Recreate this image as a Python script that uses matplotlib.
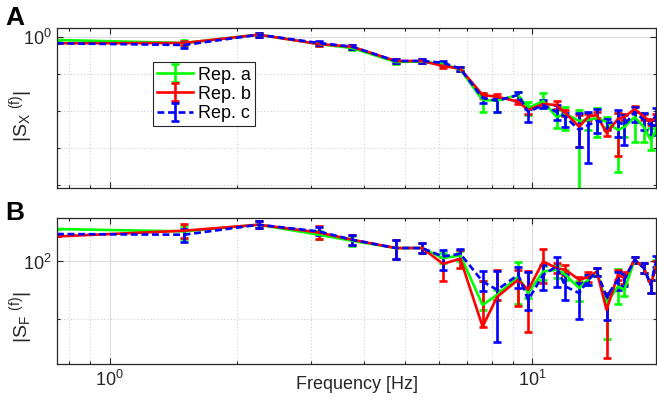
import numpy as np
import matplotlib
matplotlib.use('Agg')
import matplotlib.pyplot as plt
from matplotlib.ticker import FixedLocator, NullFormatter, FixedFormatter

plt.rcParams['font.family'] = ['Liberation Sans', 'DejaVu Sans']
plt.rcParams['mathtext.fontset'] = 'custom'
plt.rcParams['mathtext.rm'] = 'Liberation Sans'
plt.rcParams['mathtext.it'] = 'Liberation Sans:italic'
plt.rcParams['mathtext.bf'] = 'Liberation Sans:bold'
plt.rcParams['mathtext.default'] = 'regular'

# ---------------- data ----------------
freq = [0.75, 1.5, 2.25, 3.12, 3.74, 4.75, 5.48, 6.14, 6.75, 7.62, 8.25, 9.25, 9.77,
        10.6, 11.4, 11.97, 12.9, 13.55, 14.2, 14.97, 15.93, 16.5, 17.45, 18.35, 19.05, 19.6]

reps = ['Rep. a', 'Rep. b', 'Rep. c']

# Panel A: |S_X(f)| as log10 values
SX_a_log = [-0.089, -0.170, 0.054, -0.197, -0.305, -0.684, -0.670, -0.738, -0.886, -1.711, -1.730,
            -1.576, -1.927, -1.738, -2.170, -2.089, -2.278, -2.251, -2.197, -2.305, -2.522,
            -2.441, -2.170, -2.441, -2.795, -2.522]
SX_b_log = [-0.178, -0.170, 0.054, -0.197, -0.270, -0.657, -0.657, -0.792, -0.865, -1.576, -1.622,
            -1.757, -1.981, -1.819, -1.846, -2.062, -2.432, -2.162, -2.116, -2.603, -2.224,
            -2.170, -1.954, -2.162, -2.297, -2.170]
SX_c_log = [-0.178, -0.224, 0.054, -0.170, -0.270, -0.657, -0.657, -0.703, -0.865, -1.657, -1.730,
            -1.576, -2.035, -1.846, -2.035, -2.170, -2.522, -2.386, -2.278, -2.332, -2.305,
            -2.386, -2.035, -2.251, -2.386, -2.116]
# error bar extents (decades above / below)
SX_a_up = [0, 0.07, 0.05, 0.05, 0.05, 0.05, 0.05, 0.05, 0.05, 0.19, 0.08, 0.08, 0.16, 0.22, 0.19,
           0.19, 0.30, 0.19, 0.27, 0.14, 0.46, 0.14, 0.14, 0.38, 0.32, 0.14]
SX_a_dn = [0, 0.07, 0.05, 0.05, 0.05, 0.05, 0.05, 0.05, 0.05, 0.32, 0.30, 0.14, 0.19, 0.19, 0.30,
           0.43, 1.90, 0.27, 0.51, 0.14, 1.14, 0.27, 0.68, 0.41, 0.27, 0.14]
SX_b_up = [0, 0.05, 0.05, 0.05, 0.05, 0.05, 0.05, 0.05, 0.05, 0.05, 0.08, 0.05, 0.05, 0.05, 0.11,
           0.08, 0.32, 0.08, 0.08, 0.08, 0.16, 0.08, 0.08, 0.08, 0.08, 0.08]
SX_b_dn = [0, 0.05, 0.05, 0.05, 0.05, 0.05, 0.05, 0.05, 0.05, 0.08, 0.05, 0.05, 0.11, 0.08, 0.11,
           0.08, 0.54, 0.08, 0.08, 0.08, 1.00, 0.08, 0.08, 0.08, 0.08, 0.08]
SX_c_up = [0, 0.07, 0.05, 0.05, 0.05, 0.05, 0.05, 0.05, 0.05, 0.08, 0.08, 0.08, 0.08, 0.14, 0.19,
           0.11, 0.46, 0.35, 0.32, 0.11, 0.32, 0.27, 0.14, 0.19, 0.14, 0.19]
SX_c_dn = [0, 0.07, 0.05, 0.05, 0.05, 0.05, 0.05, 0.05, 0.05, 0.14, 0.30, 0.16, 0.27, 0.08, 0.22,
           0.27, 0.46, 1.03, 0.32, 0.16, 0.41, 0.54, 0.27, 0.27, 0.27, 0.27]

# Panel B: |S_F(f)| as log10 values
SF_a_log = [2.565, 2.524, 2.640, 2.466, 2.361, 2.234, 2.234, 2.059, 2.105, 1.244, 1.419, 1.738,
            1.449, 1.825, 1.855, 1.768, 1.536, 1.681, 1.825, 1.274, 1.564, 1.506, 2.030, 1.885,
            1.593, 1.942]
SF_b_log = [2.436, 2.536, 2.640, 2.506, 2.379, 2.234, 2.234, 1.960, 2.047, 0.866, 1.384, 1.681,
            1.506, 2.000, 1.885, 1.855, 1.681, 1.728, 1.825, 1.157, 1.768, 1.710, 2.030, 1.885,
            1.593, 1.913]
SF_c_log = [2.478, 2.466, 2.640, 2.524, 2.379, 2.234, 2.234, 2.087, 2.134, 1.651, 1.506, 1.768,
            1.332, 1.768, 1.913, 1.564, 1.449, 1.681, 1.825, 1.389, 1.681, 1.681, 2.030, 1.885,
            1.593, 2.000]
SF_a_up = [0, 0.10, 0.06, 0.07, 0.09, 0.14, 0.09, 0.09, 0.07, 0.42, 0.09, 0.26, 0.09, 0.09, 0.09,
           0.09, 0.12, 0.09, 0.07, 0.17, 0.30, 0.10, 0.05, 0.09, 0.09, 0.09]
SF_a_dn = [0, 0.14, 0.06, 0.07, 0.09, 0.19, 0.09, 0.09, 0.10, 0.09, 0.09, 0.47, 0.09, 0.14, 0.14,
           0.09, 0.23, 0.09, 0.07, 0.63, 0.31, 0.10, 0.05, 0.09, 0.14, 0.09]
SF_b_up = [0, 0.12, 0.06, 0.12, 0.09, 0.14, 0.09, 0.12, 0.16, 0.79, 0.47, 0.17, 0.33, 0.21, 0.09,
           0.09, 0.05, 0.09, 0.07, 0.30, 0.09, 0.10, 0.05, 0.09, 0.09, 0.09]
SF_b_dn = [0, 0.12, 0.06, 0.12, 0.09, 0.19, 0.09, 0.30, 0.16, 0.0, 0.05, 0.45, 0.73, 0.37, 0.09,
           0.09, 0.05, 0.09, 0.07, 0.84, 0.09, 0.10, 0.05, 0.09, 0.14, 0.09]
SF_c_up = [0, 0.10, 0.06, 0.07, 0.09, 0.14, 0.09, 0.12, 0.09, 0.19, 0.33, 0.14, 0.49, 0.17, 0.17,
           0.21, 0.17, 0.09, 0.07, 0.05, 0.14, 0.10, 0.05, 0.09, 0.09, 0.09]
SF_c_dn = [0, 0.12, 0.06, 0.07, 0.09, 0.19, 0.09, 0.23, 0.09, 0.17, 0.91, 0.23, 0.17, 0.26, 0.35,
           0.23, 0.45, 0.09, 0.07, 0.40, 0.17, 0.10, 0.05, 0.09, 0.14, 0.09]

colors = ['#00ff00', '#ff0000', '#0000ff']
styles = ['-', '-', '--']

# ---------------- figure ----------------
W, H = 657, 407
fig = plt.figure(figsize=(W / 100, H / 100), dpi=100)

def box(l, t, r, b):
    return [l / W, 1 - b / H, (r - l) / W, (b - t) / H]

axA = fig.add_axes(box(57, 28, 656, 188))
axB = fig.add_axes(box(57, 218, 656, 364))

spine_c = '#262626'
txt_c = '#262626'

def draw(ax, logs, ups, dns):
    hs = []
    for lg, up, dn, c, ls, lab in zip(logs, ups, dns, colors, styles, reps):
        v = 10 ** np.array(lg)
        lo = v - v * 10 ** (-np.array(dn))
        hi = v * 10 ** np.array(up) - v
        eb = ax.errorbar(freq, v, yerr=[lo, hi], color=c, ls=ls, lw=1.9,
                         elinewidth=1.9, capsize=2.7, capthick=1.9, label=lab)
        if ls == '--':
            eb[0].set_dashes((2.6, 1.4))
        hs.append(eb)
    return hs

hA = draw(axA, [SX_a_log, SX_b_log, SX_c_log], [SX_a_up, SX_b_up, SX_c_up], [SX_a_dn, SX_b_dn, SX_c_dn])
hB = draw(axB, [SF_a_log, SF_b_log, SF_c_log], [SF_a_up, SF_b_up, SF_c_up], [SF_a_dn, SF_b_dn, SF_c_dn])

for ax in (axA, axB):
    ax.set_xscale('log')
    ax.set_yscale('log')
    ax.set_xlim(0.75, 19.6)
    ax.xaxis.set_major_locator(FixedLocator([1, 10]))
    ax.xaxis.set_minor_locator(FixedLocator([0.8, 0.9, 2, 3, 4, 5, 6, 7, 8, 9]))
    ax.xaxis.set_minor_formatter(NullFormatter())
    ax.yaxis.set_minor_formatter(NullFormatter())
    ax.grid(True, which='major', color='#dddddd', lw=0.8, ls='-')
    ax.grid(True, which='minor', color='#cfcfcf', lw=0.8, ls=(0, (1, 2)))
    ax.set_axisbelow(True)
    ax.tick_params(which='both', direction='in', top=True, right=True, colors=spine_c,
                   labelsize=13, labelcolor=txt_c, pad=4)
    ax.tick_params(which='major', length=4, width=0.8)
    ax.tick_params(which='minor', length=2.5, width=0.8)
    for s in ax.spines.values():
        s.set_color(spine_c)
        s.set_linewidth(0.9)

axA.set_ylim(10 ** -4.089, 10 ** 0.235)
axA.yaxis.set_major_locator(FixedLocator([1]))
axA.yaxis.set_major_formatter(FixedFormatter([r'$10^{0}$']))
axA.yaxis.set_minor_locator(FixedLocator([1e-1, 1e-2, 1e-3, 1e-4]))
axA.xaxis.set_major_formatter(NullFormatter())

axB.set_ylim(10 ** 0.215, 10 ** 2.757)
axB.yaxis.set_major_locator(FixedLocator([100]))
axB.yaxis.set_major_formatter(FixedFormatter([r'$10^{2}$']))
axB.yaxis.set_minor_locator(FixedLocator([10]))
axB.xaxis.set_major_formatter(FixedFormatter([r'$10^{0}$', r'$10^{1}$']))

axA.set_ylabel(r'$|S_X\ {}^{(f)}|$', fontsize=14, color=txt_c)
axB.set_ylabel(r'$|S_F\ {}^{(f)}|$', fontsize=14, color=txt_c)
axA.yaxis.set_label_coords(-0.036, 0.45)
axB.yaxis.set_label_coords(-0.036, 0.32)
axB.set_xlabel('Frequency [Hz]', fontsize=13, color=txt_c)
axB.xaxis.set_label_coords(0.5, -0.085)

leg = axA.legend(handles=hA, labels=reps, loc='upper left', bbox_to_anchor=(0.16, 0.7875),
                 borderaxespad=0, fontsize=13, handlelength=2.0, handletextpad=0.25,
                 labelspacing=0.12, borderpad=0.25, fancybox=False, framealpha=1,
                 edgecolor=spine_c)
leg.get_frame().set_linewidth(0.8)

fig.text(5 / W, 1 - 25 / H, 'A', fontsize=19, fontweight='bold', ha='left', va='baseline')
fig.text(5 / W, 1 - 220 / H, 'B', fontsize=19, fontweight='bold', ha='left', va='baseline')

fig.savefig('out.png', dpi=100)
